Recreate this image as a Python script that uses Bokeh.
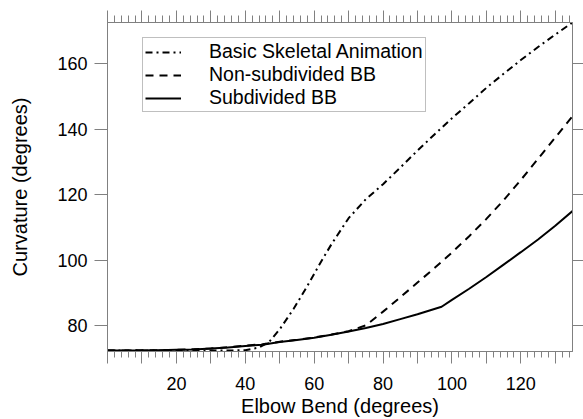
from bokeh.plotting import figure
from bokeh.models import Range1d, LinearAxis, SingleIntervalTicker, Legend, LegendItem
from bokeh.embed import file_html
from bokeh.resources import INLINE

# ---------------- data ----------------
series_names = ["Basic Skeletal Animation", "Non-subdivided BB", "Subdivided BB"]

x_basic = [0, 5, 10, 15, 20, 25, 30, 35, 40, 44, 47, 50, 54, 58, 62, 65, 70, 75,
           80, 85, 90, 95, 100, 105, 110, 115, 120, 125, 130, 135]
y_basic = [72.3, 72.3, 72.3, 72.3, 72.3, 72.3, 72.3, 72.3, 72.4, 73.2, 75.0, 78.8,
           85.0, 92.0, 99.5, 104.8, 112.8, 118.6, 123.2, 128.3, 133.5, 138.5, 143.4,
           148.0, 152.7, 157.0, 161.2, 165.2, 169.0, 172.7]

x_nonsub = [0, 5, 10, 15, 20, 25, 30, 35, 40, 45, 50, 55, 60, 65, 70, 75, 80, 85,
            90, 95, 100, 105, 110, 115, 120, 125, 130, 135]
y_nonsub = [72.3, 72.3, 72.4, 72.4, 72.5, 72.7, 72.9, 73.3, 73.8, 74.2, 75.0, 75.6,
            76.3, 77.2, 78.2, 80.0, 84.2, 88.6, 93.1, 97.6, 102.3, 107.3, 112.6,
            118.3, 124.5, 131.0, 137.5, 144.0]

x_sub = [0, 5, 10, 15, 20, 25, 30, 35, 40, 45, 50, 55, 60, 65, 70, 75, 80, 85, 90,
         97, 100, 105, 110, 115, 120, 125, 130, 135]
y_sub = [72.3, 72.3, 72.3, 72.4, 72.5, 72.6, 72.9, 73.2, 73.7, 74.1, 74.9, 75.5,
         76.2, 77.1, 78.1, 79.2, 80.4, 81.9, 83.4, 85.7, 87.8, 91.2, 94.8, 98.6,
         102.4, 106.3, 110.5, 115.0]

x_label_blank = [0, 10, 30, 50, 70, 90, 110, 130]   # ticks drawn without labels
x_title = "Elbow Bend (degrees)"
y_title = "Curvature (degrees)"

# ---------------- style ----------------
GREY = "#808080"
FONT = "Liberation Sans"

p = figure(width=583, height=419, output_backend="svg", toolbar_location=None,
           x_range=Range1d(0, 135), y_range=Range1d(72, 172.7),
           x_axis_location=None, y_axis_location=None,
           min_border_left=107, min_border_top=22, min_border_right=11,
           min_border_bottom=0)
p.outline_line_color = GREY
p.background_fill_color = "white"
for g in p.grid:
    g.visible = False


def style_axis(ax, tick_out, minor_out, labels=True):
    ax.axis_line_color = GREY
    ax.major_tick_line_color = GREY
    ax.minor_tick_line_color = GREY
    ax.major_tick_in = 0
    ax.minor_tick_in = 0
    ax.major_tick_out = tick_out
    ax.minor_tick_out = minor_out
    ax.major_label_text_font = FONT
    ax.major_label_text_color = "black"
    ax.axis_label_text_font = FONT
    ax.axis_label_text_font_style = "normal"
    ax.axis_label_text_color = "black"
    if labels:
        ax.major_label_text_font_size = "18px"
        ax.axis_label_text_font_size = "20px"
    else:
        ax.major_label_text_font_size = "0px"
        ax.major_label_standoff = 0


xb = LinearAxis(ticker=SingleIntervalTicker(interval=10, num_minor_ticks=5),
                axis_label=x_title)
style_axis(xb, 12, 6)
xb.major_label_overrides = {v: "" for v in x_label_blank}
xb.major_label_standoff = 13
xb.axis_label_standoff = 2
p.add_layout(xb, "below")

xt = LinearAxis(ticker=SingleIntervalTicker(interval=10, num_minor_ticks=5))
style_axis(xt, 12, 7, labels=False)
p.add_layout(xt, "above")

yl = LinearAxis(ticker=SingleIntervalTicker(interval=20, num_minor_ticks=0),
                axis_label=y_title)
style_axis(yl, 13, 0)
yl.major_label_standoff = 7
yl.axis_label_standoff = 23
p.add_layout(yl, "left")

yr = LinearAxis(ticker=SingleIntervalTicker(interval=20, num_minor_ticks=0))
style_axis(yr, 11, 0, labels=False)
p.add_layout(yr, "right")

r1 = p.line(x_basic, y_basic, line_color="black", line_width=2, line_dash="7 4 2 4")
r2 = p.line(x_nonsub, y_nonsub, line_color="black", line_width=2, line_dash="8 6")
r3 = p.line(x_sub, y_sub, line_color="black", line_width=2)

legend = Legend(items=[LegendItem(label=series_names[0], renderers=[r1]),
                       LegendItem(label=series_names[1], renderers=[r2]),
                       LegendItem(label=series_names[2], renderers=[r3])],
                location=(35, 239))
legend.border_line_color = GREY
legend.border_line_width = 1
legend.background_fill_color = "white"
legend.background_fill_alpha = 1
legend.label_text_font = FONT
legend.label_text_font_size = "19.5px"
legend.label_text_color = "black"
legend.glyph_width = 36
legend.glyph_height = 20
legend.label_height = 20
legend.label_standoff = 28
legend.spacing = 0
legend.padding = 2
legend.margin = 0
p.add_layout(legend)

open("out.html", "w").write(file_html(p, INLINE))
